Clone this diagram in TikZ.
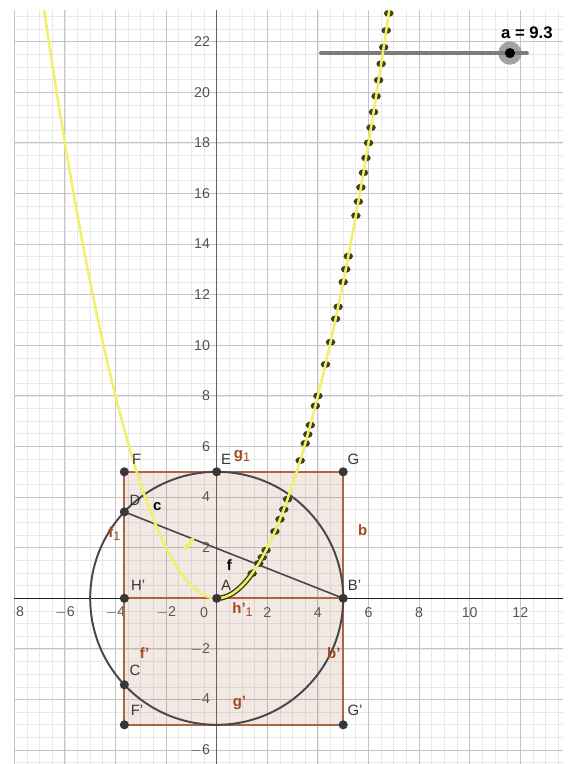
\documentclass[tikz,border=0pt]{standalone}
\usepackage{fontspec}
\setmainfont{Liberation Sans}
\definecolor{gmajor}{RGB}{196,196,196}
\definecolor{gminor}{RGB}{232,232,232}
\definecolor{edgebrown}{RGB}{172,102,68}
\definecolor{labbrown}{RGB}{165,72,32}
\definecolor{ptgray}{RGB}{55,55,55}
\definecolor{circgray}{RGB}{72,72,72}
\definecolor{yel}{RGB}{240,240,105}
\definecolor{oliv}{RGB}{66,62,22}
\definecolor{ticklab}{RGB}{85,85,85}
\definecolor{slidergray}{RGB}{125,125,125}
\newcommand{\lowsub}[1]{\raisebox{-0.45ex}{\fontsize{7}{8}\selectfont\mdseries #1}}
\begin{document}
\begin{tikzpicture}[x=0.5cm,y=0.5cm,
  ptlab/.style={text=ptgray,font=\fontsize{8.4}{9.5}\selectfont,inner sep=0pt},
  seglab/.style={text=labbrown,font=\fontsize{8.4}{9.5}\selectfont\bfseries,inner sep=0pt},
  blklab/.style={text=black,font=\fontsize{8.4}{9.5}\selectfont\bfseries,inner sep=0pt},
  ticklabel/.style={text=ticklab,font=\fontsize{8}{9}\selectfont,inner sep=0pt},
  ptdot/.style={fill=ptgray},
  rectedge/.style={draw=edgebrown,line width=1.1pt},
]
\useasboundingbox (-8.565,-6.549) rectangle (14.083,23.648);
\fill[white] (-8.565,-6.549) rectangle (14.083,23.648);

% points
\coordinate (A) at (0,0);
\coordinate (E) at (0,5);
\coordinate (Bp) at (5,0);
\coordinate (D) at (-3.65,3.417);
\coordinate (C) at (-3.65,-3.417);
\coordinate (F) at (-3.65,5);
\coordinate (G) at (5,5);
\coordinate (Fp) at (-3.65,-5);
\coordinate (Gp) at (5,-5);
\coordinate (Hp) at (-3.65,0);

\begin{scope}
\clip (-8.01,-6.549) rectangle (13.68,23.22);
% grid
\draw[gminor,line width=0.4pt,step=0.5] (-8.5,-7) grid (14,23.5);
\draw[gmajor,line width=0.6pt,step=2] (-8.5,-7) grid (14,23.5);
% axes
\draw[black!88,line width=0.75pt] (-8.5,0) -- (14,0);
\draw[black!62,line width=0.75pt] (0,-7) -- (0,23.5);
% tick labels
\foreach \v in {-8,-6,-4,-2,2,4,6,8,10,12}
  \node[ticklabel] (xt\v) at (\v,-0.55) {\ifnum\v<0 $-$\the\numexpr-\v\relax\else\v\fi};
\node[ticklabel] (xt0) at (-0.5,-0.55) {0};
\foreach \v in {2,4,...,22}
  \node[ticklabel,anchor=east] (yt\v) at (-0.25,\v) {\v};
\foreach \v in {2,4,6}
  \node[ticklabel,anchor=east] (ytm\v) at (-0.25,-\v) {$-$\v};

% rectangle
\fill[edgebrown,opacity=0.14] (F) rectangle (Gp);
\draw[rectedge] (F) -- (G) -- (Gp) -- (Fp) -- cycle;
\draw[rectedge] (Hp) -- (Bp);
% circle and segment
\draw[circgray,line width=1.1pt] (A) circle (5);
\draw[circgray,line width=0.9pt] (D) -- (Bp);

% slider line
\coordinate (s1) at (4.12,21.55);
\coordinate (s2) at (12.26,21.55);
\coordinate (knob) at (11.59,21.55);
\draw[slidergray,line width=2.2pt,line cap=round] (s1) -- (s2);

% locus dots
\foreach \t in {6.8,6.7,6.6,6.5,6.4,6.3,6.2,6.1,6.0,5.9,5.8,5.7,5.6,5.5,5.2,5.1,5.0,4.8,4.7,4.5,4.3,4.0,3.9,3.7,3.6,3.5,3.3,2.8,2.65,2.5,2.3,1.95,1.8,1.66,1.4}
  \fill[oliv] (\t,{\t*\t/2}) ellipse [x radius=0.19, y radius=0.14];
\draw[oliv,line width=3pt,line cap=round] plot[domain=0:1.45,samples=25] (\x,{\x*\x/2});
% parabola
\draw[yel,line width=1.4pt] plot[domain=-6.95:6.95,samples=160] (\x,{\x*\x/2});
\draw[yel,line width=2pt,line cap=round] (-1.25,2.0) -- (-1.05,2.15) -- (-0.95,2.35);
\end{scope}

% point markers
\foreach \p in {A,E,Bp,D,C,F,G,Fp,Gp,Hp}
  \fill[ptdot] (\p) circle (0.18);

% point labels
\node[ptlab] (lF) at (-3.16,5.49) {F};
\node[ptlab] (lE) at (0.37,5.49) {E};
\node[ptlab] (lG) at (5.4,5.49) {G};
\node[ptlab] (lD) at (-3.23,3.89) {D};
\node[ptlab] (lH) at (-3.1,0.53) {H'};
\node[ptlab] (lA) at (0.37,0.53) {A};
\node[ptlab] (lB) at (5.45,0.53) {B'};
\node[ptlab] (lC) at (-3.23,-2.83) {C};
\node[ptlab] (lFp) at (-3.15,-4.41) {F'};
\node[ptlab] (lGp) at (5.47,-4.41) {G'};

% segment labels
\node[seglab] (lg1) at (1.0,5.62) {g\lowsub{1}};
\node[seglab] (lf1) at (-4.05,2.55) {f\lowsub{1}};
\node[seglab] (lb) at (5.77,2.7) {b};
\node[seglab] (lh1) at (1.02,-0.45) {h'\lowsub{1}};
\node[seglab] (lfp) at (-2.85,-2.17) {f'};
\node[seglab] (lbp) at (4.63,-2.17) {b'};
\node[seglab] (lgp) at (0.9,-4.15) {g'};
\node[blklab] (lc) at (-2.35,3.62) {c};
\node[blklab] (lf) at (0.5,1.32) {f};

% slider knob and label
\fill[slidergray,opacity=0.7] (knob) circle (0.46);
\fill[black] (knob) circle (0.2);
\node[text=black,font=\fontsize{9.4}{10}\selectfont\bfseries,inner sep=0pt] (alab) at (12.26,22.35) {a = 9.3};
\end{tikzpicture}
\end{document}
